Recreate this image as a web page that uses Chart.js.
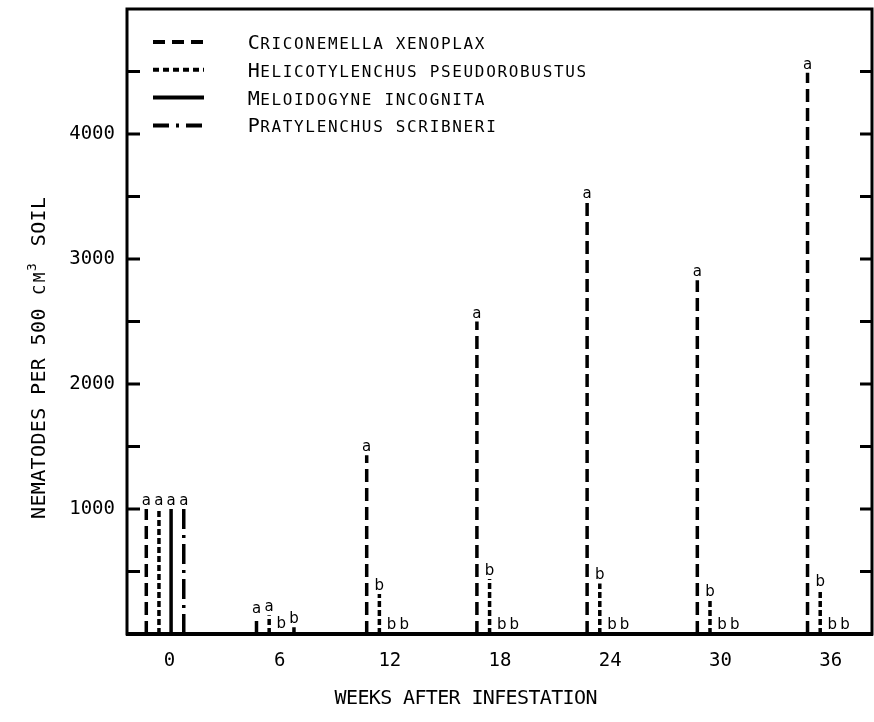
<!DOCTYPE html>
<html>
<head>
<meta charset="utf-8">
<script src="https://cdn.jsdelivr.net/npm/chart.js@4.4.1/dist/chart.umd.min.js"></script>
<style>
  html, body { margin: 0; padding: 0; background: #fff; }
  #wrap { width: 874px; height: 722px; }
</style>
</head>
<body>
<div id="wrap"><canvas id="myChart"></canvas></div>
<script>
// weeks after infestation (one group of four bars per week)
const weeks = ['0', '6', '12', '18', '24', '30', '36'];
const species = ['Criconemella xenoplax', 'Helicotylenchus pseudorobustus', 'Meloidogyne incognita', 'Pratylenchus scribneri'];

// nematodes per 500 cm3 soil
const criconemella    = [1000, 140, 1430, 2500, 3460, 2830, 4490];
const helicotylenchus = [1000, 150,  320,  440,  405,  270,  350];
const meloidogyne     = [1000,  15,    8,    8,    8,    8,    8];
const pratylenchus    = [1000,  55,    8,    8,    8,    8,    8];

// significance letters above each bar
const lettersCrico = ['a', 'a', 'a', 'a', 'a', 'a', 'a'];
const lettersHelic = ['a', 'a', 'b', 'b', 'b', 'b', 'b'];
const lettersMelo  = ['a', 'b', 'b', 'b', 'b', 'b', 'b'];
const lettersPraty = ['a', 'b', 'b', 'b', 'b', 'b', 'b'];

const yLabelTicks = [1000, 2000, 3000, 4000];
const yTickMarks = [500, 1000, 1500, 2000, 2500, 3000, 3500, 4000, 4500];

const MONO = '"DejaVu Sans Mono", "Liberation Mono", monospace';

// each bar is a vertical line segment: (x,0) -> (x,v), then a gap
function barSegments(values, offset) {
  const pts = [];
  values.forEach((v, i) => {
    pts.push({ x: i + offset, y: 0 }, { x: i + offset, y: v }, { x: i + offset, y: null });
  });
  return pts;
}

const seriesDefs = [
  { values: criconemella,    letters: lettersCrico, offset: -0.17,  dash: [13, 6],       width: 3.5, legendDash: [12, 7] },
  { values: helicotylenchus, letters: lettersHelic, offset: -0.055, dash: [6, 3],        width: 3.5, legendDash: [6, 4] },
  { values: meloidogyne,     letters: lettersMelo,  offset: 0.055,  dash: [],            width: 3.5, legendDash: [] },
  { values: pratylenchus,    letters: lettersPraty, offset: 0.17,   dash: [20, 6, 3, 6], width: 3.5, legendDash: [16, 7, 3, 7] }
];

// draws typewriter-style lettering: fixed pitch, lowercase shown as small caps
function drawTypeText(ctx, text, x, y, pitch, big, small, align) {
  let cx = align === 'center' ? x - text.length * pitch / 2 : x;
  ctx.textAlign = 'center';
  ctx.textBaseline = 'alphabetic';
  for (const ch of text) {
    if (ch === '³') {
      ctx.font = (small - 3) + 'px ' + MONO;
      ctx.fillText('3', cx + pitch / 2 - 2, y - 9);
    } else if (ch !== ch.toUpperCase()) {
      ctx.font = small + 'px ' + MONO;
      ctx.fillText(ch.toUpperCase(), cx + pitch / 2, y);
    } else {
      ctx.font = big + 'px ' + MONO;
      ctx.fillText(ch, cx + pitch / 2, y);
    }
    cx += pitch;
  }
}

const framePlugin = {
  id: 'frame',
  afterDraw(chart) {
    const { ctx, chartArea: a, scales } = chart;
    const y = scales.y;
    ctx.save();
    ctx.strokeStyle = '#000';
    ctx.lineWidth = 3;
    ctx.strokeRect(a.left, a.top, a.right - a.left, a.bottom - a.top);
    ctx.lineWidth = 4;
    ctx.beginPath();
    ctx.moveTo(a.left - 1, a.bottom);
    ctx.lineTo(a.right + 1, a.bottom);
    ctx.stroke();
    // inward ticks on both sides
    ctx.lineWidth = 3;
    yTickMarks.forEach(v => {
      const py = y.getPixelForValue(v);
      ctx.beginPath();
      ctx.moveTo(a.left, py); ctx.lineTo(a.left + 13, py);
      ctx.moveTo(a.right, py); ctx.lineTo(a.right - 12, py);
      ctx.stroke();
    });
    ctx.restore();
  }
};

const lettersPlugin = {
  id: 'letters',
  afterDatasetsDraw(chart) {
    const { ctx, scales } = chart;
    ctx.save();
    ctx.fillStyle = '#000';
    ctx.font = '15px "DejaVu Sans", sans-serif';
    ctx.textAlign = 'center';
    ctx.textBaseline = 'alphabetic';
    seriesDefs.forEach(s => {
      s.values.forEach((v, i) => {
        const px = scales.x.getPixelForValue(i + s.offset);
        const py = scales.y.getPixelForValue(v);
        ctx.fillText(s.letters[i], px, py - 4);
      });
    });
    ctx.restore();
  }
};

const legendPlugin = {
  id: 'typeLegend',
  afterDraw(chart) {
    const { ctx } = chart;
    ctx.save();
    ctx.fillStyle = '#000';
    ctx.strokeStyle = '#000';
    species.forEach((name, i) => {
      const rowY = 42 + i * 27.8;
      ctx.lineWidth = 4;
      ctx.setLineDash(seriesDefs[i].legendDash);
      ctx.beginPath();
      ctx.moveTo(153, rowY);
      ctx.lineTo(204, rowY);
      ctx.stroke();
      ctx.setLineDash([]);
      drawTypeText(ctx, name, 248, rowY + 7, 11.3, 20, 16, 'left');
    });

    // axis titles
    drawTypeText(ctx, 'WEEKS AFTER INFESTATION', 466, 704, 11.4, 20, 16, 'center');
    ctx.translate(38, 358);
    ctx.rotate(-Math.PI / 2);
    drawTypeText(ctx, 'NEMATODES PER 500 cm³ SOIL', 0, 7, 12.4, 20, 16, 'center');
    ctx.restore();
  }
};

function noPadding(scale) {
  scale.paddingTop = 0;
  scale.paddingBottom = 0;
  scale.paddingLeft = 0;
  scale.paddingRight = 0;
}

const ctx = document.getElementById('myChart');

const myChart = new Chart(ctx, {
  type: 'line',
  data: {
    datasets: seriesDefs.map((s, i) => ({
      label: species[i],
      data: barSegments(s.values, s.offset),
      borderColor: '#000',
      borderWidth: s.width,
      borderDash: s.dash,
      borderCapStyle: 'butt',
      pointRadius: 0,
      pointHoverRadius: 0,
      tension: 0,
      spanGaps: false,
      fill: false
    }))
  },
  options: {
    responsive: true,
    maintainAspectRatio: false,
    animation: false,
    layout: { padding: { top: 9, right: 2, left: 0, bottom: 0 } },
    scales: {
      x: {
        type: 'linear',
        min: -0.345,
        max: 6.415,
        grid: { display: false, drawTicks: false },
        border: { display: false },
        afterBuildTicks: scale => { scale.ticks = weeks.map((w, i) => ({ value: i + 0.04 })); },
        afterFit: scale => { scale.height = 88; noPadding(scale); },
        ticks: {
          autoSkip: false,
          maxRotation: 0,
          padding: 16,
          color: '#000',
          font: { family: MONO, size: 19 },
          callback: value => weeks[Math.round(value)]
        }
      },
      y: {
        min: 0,
        max: 5000,
        grid: { display: false, drawTicks: false },
        border: { display: false },
        afterBuildTicks: scale => { scale.ticks = yLabelTicks.map(v => ({ value: v })); },
        afterFit: scale => { scale.width = 127; noPadding(scale); },
        ticks: {
          padding: 12,
          color: '#000',
          font: { family: MONO, size: 19 },
          callback: value => String(value)
        }
      }
    },
    plugins: {
      legend: { display: false },
      tooltip: { enabled: false }
    }
  },
  plugins: [framePlugin, lettersPlugin, legendPlugin]
});
</script>
</body>
</html>
